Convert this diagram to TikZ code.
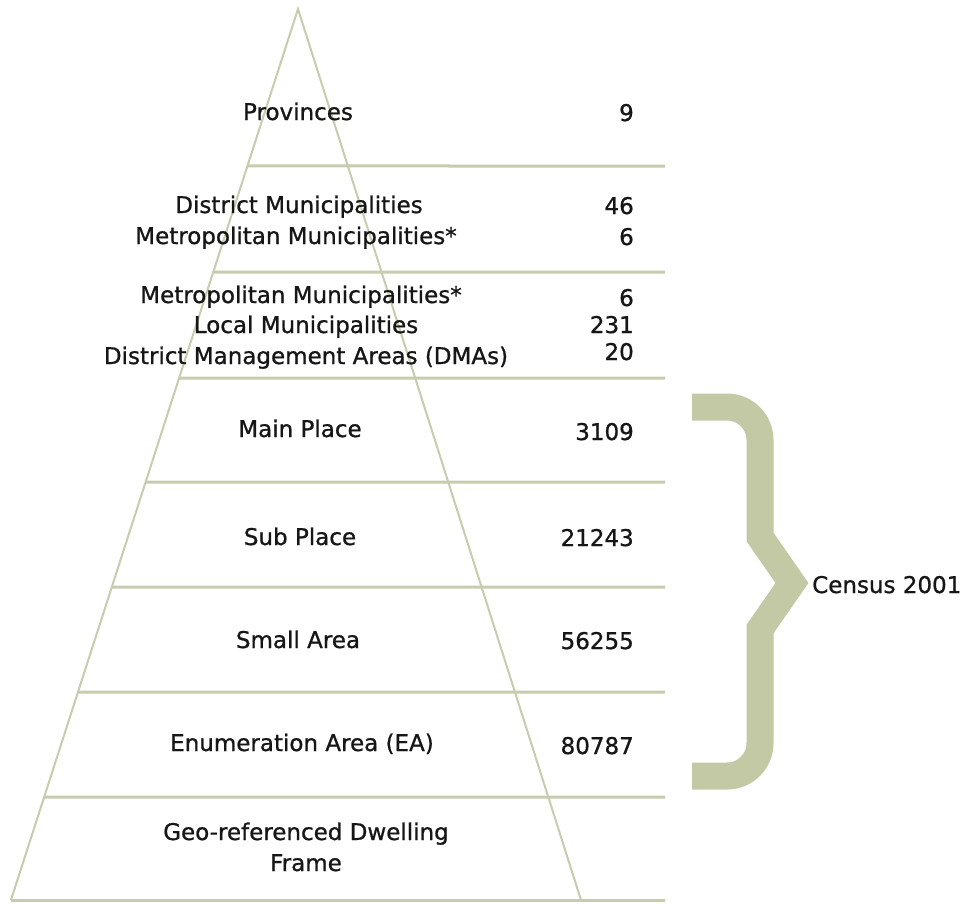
\documentclass[tikz,border=0pt]{standalone}
\usepackage{fontspec}
\setmainfont[FakeBold=0.9]{DejaVu Sans}
\usetikzlibrary{calc}
\definecolor{linecol}{RGB}{200,204,174}
\definecolor{bracecol}{RGB}{194,201,164}
\definecolor{txtcol}{RGB}{22,22,22}
\begin{document}
\begin{tikzpicture}[x=1pt,y=-1pt,
  edge/.style={draw=linecol,line width=2pt},
  hline/.style={draw=linecol,line width=3pt},
  brace/.style={draw=bracecol,line width=27pt,line join=miter,miter limit=10},
  lbl/.style={text=txtcol,inner sep=0pt,font=\fontsize{23}{30}\selectfont,anchor=base},
  num/.style={lbl,anchor=base east}]
\useasboundingbox (0,0) rectangle (969,903);
\fill[white] (0,0) rectangle (969,903);
% pyramid
\coordinate (apex) at (298,9);
\coordinate (bl) at (11,900);
\coordinate (br) at (581,900);
\draw[edge] (bl) -- (apex) -- (br);
\foreach \yy in {166,272,378,482,587,692,797,900}{
  \pgfmathsetmacro{\tt}{(\yy-9)/891}
  \draw[hline] ($(apex)!\tt!(bl)$) -- (665,\yy);
}
% labels
\node[lbl] (prov) at (298,120) {Provinces};
\node[num] (nprov) at (634,121) {9};
\node[lbl] (dm) at (299,213) {District Municipalities};
\node[lbl] (mm1) at (296,244) {Metropolitan Municipalities*};
\node[num] (ndm) at (634,214) {46};
\node[num] (nmm1) at (634,245) {6};
\node[lbl] (mm2) at (301,303) {Metropolitan Municipalities*};
\node[lbl] (lm) at (306,333) {Local Municipalities};
\node[lbl] (dma) at (306,364) {District Management Areas (DMAs)};
\node[num] (nmm2) at (634,306) {6};
\node[num] (nlm) at (634,333) {231};
\node[num] (ndma) at (634,360) {20};
\node[lbl] (mp) at (300,437) {Main Place};
\node[num] (nmp) at (634,440) {3109};
\node[lbl] (sp) at (300,545) {Sub Place};
\node[num] (nsp) at (634,546) {21243};
\node[lbl] (sa) at (298,648) {Small Area};
\node[num] (nsa) at (634,649) {56255};
\node[lbl] (ea) at (302,751) {Enumeration Area (EA)};
\node[num] (nea) at (634,754) {80787};
\node[lbl] (geo1) at (306,840) {Geo-referenced Dwelling};
\node[lbl] (geo2) at (306,871) {Frame};
% brace
\draw[brace] (692,407) -- (727,407) .. controls (745.2,407) and (760,421.8) .. (760,440)
  -- (760,537) -- (792,583) -- (760,629) -- (760,743)
  .. controls (760,761.2) and (745.2,776) .. (727,776) -- (692,776);
\node[lbl,anchor=base west] (census) at (812,593) {Census 2001};
\end{tikzpicture}
\end{document}
